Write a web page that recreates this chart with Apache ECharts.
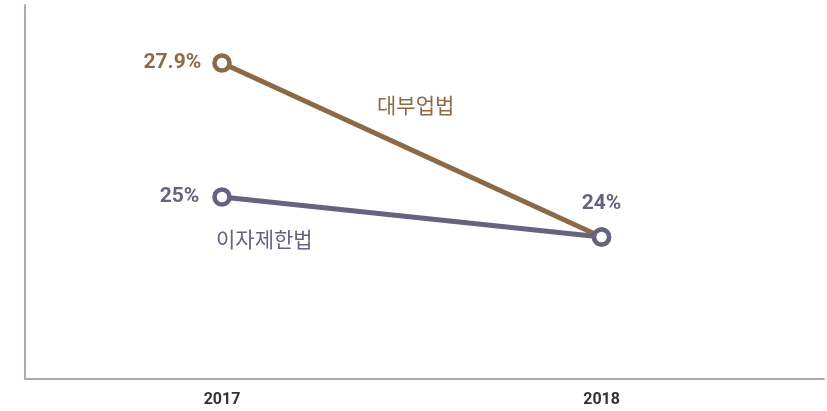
<!DOCTYPE html>
<html><head><meta charset="utf-8">
<script src="https://cdn.jsdelivr.net/npm/echarts@6/dist/echarts.min.js"></script>
<style>html,body{margin:0;padding:0;background:#fff}#c{width:827px;height:411px}</style>
</head><body><div id="c"></div>
<script>
const years = [2017, 2018];
const loanActValues = [27.9, 24];      // 대부업법
const interestActValues = [25, 24];    // 이자제한법
const seriesNames = ['대부업법', '이자제한법'];

const BROWN = '#8c6a47', PURPLE = '#67627f';
const NUM_FONT = "Roboto,sans-serif";
const KR_FONT = "'Noto Sans CJK KR',sans-serif";

const chart = echarts.init(document.getElementById('c'));
function mk(vals, showIdx, pos) {
  return vals.map((v, i) => ({
    value: [years[i], v],
    label: showIdx.includes(i) ? { show: true, position: pos[i] } : { show: false }
  }));
}
chart.setOption({
  animation: false,
  grid: { left: 25, right: 0, top: 5, bottom: 32 },
  xAxis: {
    type: 'value', min: 2016.481, max: 2018.586,
    axisLine: { show: true, onZero: false, lineStyle: { color: '#aaa8bb', width: 2 } },
    axisTick: { show: false }, splitLine: { show: false },
    axisLabel: {
      formatter: v => Math.abs(v - Math.round(v)) < 1e-6 && years.includes(Math.round(v)) ? String(Math.round(v)) : '',
      color: '#333', fontFamily: NUM_FONT, fontWeight: 'bold', fontSize: 16, margin: 13,
      showMinLabel: true, showMaxLabel: true
    }
  },
  yAxis: [
    { type: 'value', min: 20.82, max: 29.20, show: true,
      axisLine: { show: true, onZero: false, lineStyle: { color: '#aaa8bb', width: 2 } },
      axisTick: { show: false }, axisLabel: { show: false }, splitLine: { show: false } },
    { type: 'value', min: 20.45, max: 29.80, show: false, splitLine: { show: false } }
  ],
  series: [
    { name: seriesNames[0], type: 'line', yAxisIndex: 0,
      data: mk(loanActValues, [0], ['left']),
      symbol: 'circle', symbolSize: 15, showAllSymbol: true,
      lineStyle: { color: BROWN, width: 5 },
      itemStyle: { color: '#fff', borderColor: BROWN, borderWidth: 4.5 },
      label: { formatter: p => p.value[1] + '%', color: BROWN, fontFamily: NUM_FONT, fontWeight: 'bold', fontSize: 21, distance: 11 }
    },
    { name: seriesNames[1], type: 'line', yAxisIndex: 1,
      data: mk(interestActValues, [0, 1], ['left', 'top']),
      symbol: 'circle', symbolSize: 15, showAllSymbol: true,
      lineStyle: { color: PURPLE, width: 5 },
      itemStyle: { color: '#fff', borderColor: PURPLE, borderWidth: 4.5 },
      label: { formatter: p => p.value[1] + '%', color: PURPLE, fontFamily: NUM_FONT, fontWeight: 'bold', fontSize: 21, distance: 13 }
    }
  ],
  graphic: [
    { type: 'text', left: 377, top: 95, style: { text: seriesNames[0], fill: BROWN, font: "21px " + KR_FONT } },
    { type: 'text', left: 216, top: 229, style: { text: seriesNames[1], fill: PURPLE, font: "21px " + KR_FONT } }
  ]
});
</script></body></html>
